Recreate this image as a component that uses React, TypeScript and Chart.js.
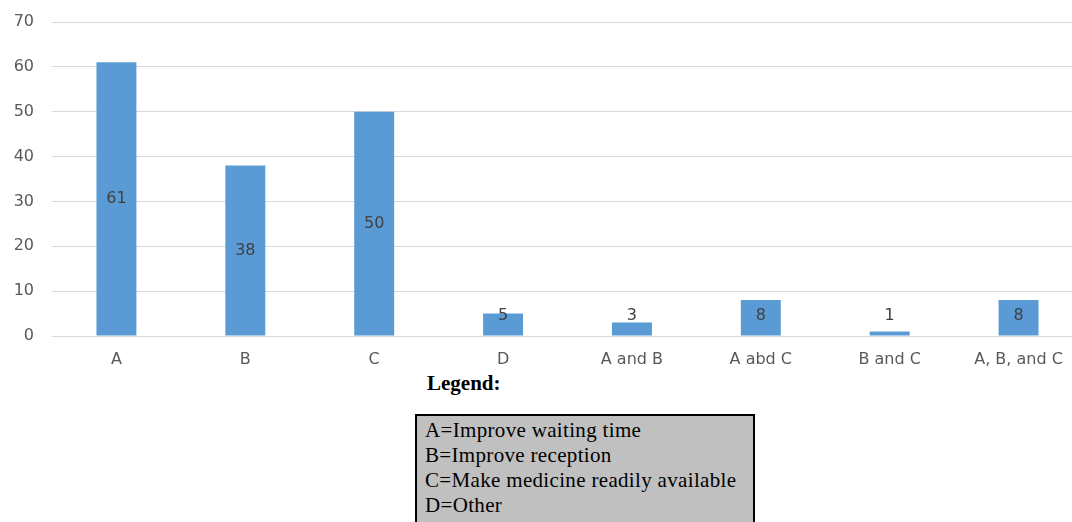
import React, { useEffect, useRef } from "react";
import { Chart, registerables } from "chart.js";

Chart.register(...registerables);

const categories = ["A", "B", "C", "D", "A and B", "A abd C", "B and C", "A, B, and C"];
const counts = [61, 38, 50, 5, 3, 8, 1, 8];
const yTicks = [0, 10, 20, 30, 40, 50, 60, 70];
const legendTitle = "Legend:";
const legendLines = [
  "A=Improve waiting time",
  "B=Improve reception",
  "C=Make medicine readily available",
  "D=Other",
];

const labelPlugin = {
  id: "barLabels",
  afterDatasetsDraw(chart: any) {
    const ctx = chart.ctx;
    const meta = chart.getDatasetMeta(0);
    const yScale = chart.scales.y;
    const zeroY = yScale.getPixelForValue(0);
    ctx.save();
    ctx.font = "16px 'DejaVu Sans'";
    ctx.fillStyle = "#404040";
    ctx.textAlign = "center";
    ctx.textBaseline = "middle";
    meta.data.forEach((bar: any, i: number) => {
      const mid = (bar.y + zeroY) / 2;
      const y = Math.min(mid, zeroY - 20);
      ctx.fillText(String(counts[i]), bar.x, y);
    });
    ctx.restore();
  },
};

export default function App() {
  const ref = useRef<HTMLCanvasElement | null>(null);
  useEffect(() => {
    if (!ref.current) return;
    const chart = new Chart(ref.current, {
      type: "bar",
      data: {
        labels: categories,
        datasets: [
          {
            data: counts,
            backgroundColor: "#5b9bd5",
            borderWidth: 0,
            barPercentage: 0.31,
            categoryPercentage: 1,
          },
        ],
      },
      options: {
        animation: false,
        responsive: false,
        layout: { padding: { top: 22, right: 7, left: 0, bottom: 0 } },
        plugins: { legend: { display: false }, tooltip: { enabled: false } },
        scales: {
          x: {
            grid: { display: false, drawTicks: false },
            border: { display: true, color: "#d9d9d9", width: 1 },
            ticks: { color: "#595959", font: { family: "'DejaVu Sans'", size: 16 }, padding: 14, maxRotation: 0, autoSkip: false },
            afterFit: (s: any) => { s.height = 34; },
          },
          y: {
            min: 0,
            max: 70,
            afterBuildTicks: (s: any) => { s.ticks = yTicks.map((v) => ({ value: v })); },
            grid: { color: "#d9d9d9", drawTicks: false },
            border: { display: false },
            ticks: { color: "#595959", font: { family: "'DejaVu Sans'", size: 16 }, padding: 18 },
            afterFit: (s: any) => {
              s.width = 52;
              s.paddingTop = 10;
              s.paddingBottom = 10;
            },
          },
        },
      },
      plugins: [labelPlugin],
    });
    return () => chart.destroy();
  }, []);

  return (
    <div style={{ position: "fixed", left: 0, top: 0, width: 1072, height: 522, overflow: "hidden", background: "#fff" }}>
      <canvas ref={ref} width={1090} height={370} style={{ position: "absolute", left: 0, top: 0 }} />
      <div
        style={{
          position: "absolute",
          left: 427,
          top: 371,
          fontFamily: "'Liberation Serif', 'Times New Roman', serif",
          fontWeight: "bold",
          fontSize: 21,
          lineHeight: "24px",
          color: "#000",
        }}
      >
        {legendTitle}
      </div>
      <div
        style={{
          position: "absolute",
          left: 415,
          top: 414,
          width: 328,
          height: 120,
          border: "2px solid #000",
          background: "#c0c0c0",
          boxSizing: "content-box",
          fontFamily: "'Liberation Serif', 'Times New Roman', serif",
          fontSize: 21,
          letterSpacing: "0.33px",
          lineHeight: "25px",
          color: "#000",
          paddingLeft: 8,
          paddingTop: 2,
          whiteSpace: "nowrap",
        }}
      >
        {legendLines.map((l) => (
          <div key={l}>{l}</div>
        ))}
      </div>
    </div>
  );
}
